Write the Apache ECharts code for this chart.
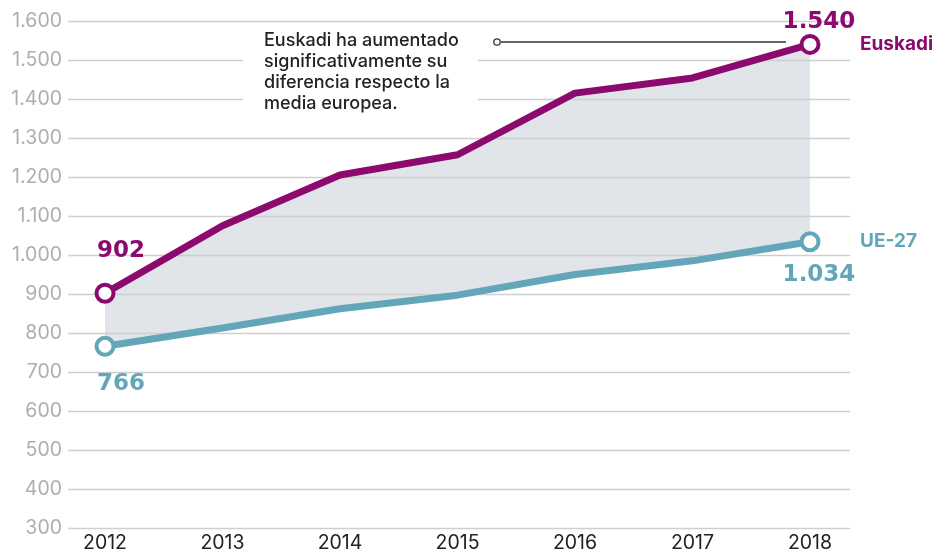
<!DOCTYPE html>
<html>
<head>
<meta charset="utf-8">
<script src="https://cdn.jsdelivr.net/npm/echarts@6/dist/echarts.min.js"></script>
<style>
  html, body { margin: 0; padding: 0; background: #fff; }
  #chart { width: 946px; height: 553px; }
</style>
</head>
<body>
<div id="chart"></div>
<script>
// datos
const years = ['2012', '2013', '2014', '2015', '2016', '2017', '2018'];
const euskadi = [902, 1075, 1205, 1257, 1415, 1454, 1540];
const ue27 = [766, 813, 862, 897, 950, 985, 1034];
const yMin = 300;
const yMax = 1600;
const yStep = 100;
const note = 'Euskadi ha aumentado\nsignificativamente su\ndiferencia respecto la\nmedia europea.';

const PURPLE = '#8c0a6e';
const TEAL = '#64a6b9';

function fmt(v) {
    return String(v).replace(/\B(?=(\d{3})+(?!\d))/g, '.');
}

// solo marcar el primer y el último punto
function withEnds(values, color, firstLabel, lastLabel) {
    return values.map(function (v, i) {
        const isEnd = i === 0 || i === values.length - 1;
        if (!isEnd) return { value: v, symbol: 'none' };
        const lbl = i === 0 ? firstLabel : lastLabel;
        return {
            value: v,
            symbol: 'circle',
            symbolSize: 17,
            label: {
                show: true,
                formatter: fmt(v),
                position: lbl.position,
                offset: lbl.offset,
                color: color,
                fontFamily: 'DejaVu Sans',
                fontWeight: 'bold',
                fontSize: 23
            }
        };
    });
}

const chart = echarts.init(document.getElementById('chart'));

const option = {
    animation: false,
    grid: [
        { left: 68, right: 96, top: 21, bottom: 25 },
        { left: 105, right: 136, top: 21, bottom: 25 }
    ],
    xAxis: [
        { gridIndex: 0, type: 'value', show: false, min: 0, max: 1 },
        {
            gridIndex: 1,
            type: 'category',
            data: years,
            boundaryGap: false,
            axisLine: { show: false },
            axisTick: { show: false },
            axisLabel: {
                margin: 5,
                color: '#222',
                fontFamily: 'Inter',
                fontSize: 19.5
            }
        }
    ],
    yAxis: [
        {
            gridIndex: 0,
            type: 'value',
            min: yMin,
            max: yMax,
            interval: yStep,
            axisLine: { show: false },
            axisTick: { show: false },
            splitLine: { lineStyle: { color: '#cfcfcf', width: 1.3 } },
            axisLabel: {
                margin: 6,
                color: '#aeaeae',
                fontFamily: 'Inter',
                fontSize: 19.5,
                formatter: fmt
            }
        },
        {
            gridIndex: 1,
            type: 'value',
            min: yMin,
            max: yMax,
            interval: yStep,
            show: false,
            splitLine: { show: false }
        }
    ],
    graphic: [
        {
            type: 'rect',
            shape: { x: 243, y: 27, width: 235, height: 96 },
            style: { fill: '#fff' },
            z: 50
        },
        {
            type: 'text',
            x: 264,
            y: 30,
            z: 51,
            style: {
                text: note,
                fill: '#222',
                font: '500 18px Inter',
                lineHeight: 21
            }
        },
        {
            type: 'line',
            shape: { x1: 501, y1: 42, x2: 786, y2: 42 },
            style: { stroke: '#333', lineWidth: 1.3 },
            z: 51
        },
        {
            type: 'circle',
            shape: { cx: 497, cy: 42, r: 3.2 },
            style: { fill: '#fff', stroke: '#333', lineWidth: 1.3 },
            z: 52
        }
    ],
    series: [
        {
            type: 'line',
            xAxisIndex: 1,
            yAxisIndex: 1,
            stack: 'band',
            data: ue27,
            symbol: 'none',
            lineStyle: { opacity: 0 },
            silent: true,
            z: -1
        },
        {
            type: 'line',
            xAxisIndex: 1,
            yAxisIndex: 1,
            stack: 'band',
            data: euskadi.map(function (v, i) { return v - ue27[i]; }),
            symbol: 'none',
            lineStyle: { opacity: 0 },
            areaStyle: { color: '#e1e4e8', opacity: 1 },
            silent: true,
            z: -1
        },
        {
            name: 'UE-27',
            type: 'line',
            xAxisIndex: 1,
            yAxisIndex: 1,
            data: withEnds(ue27, TEAL,
                { position: 'bottom', offset: [16, 11] },
                { position: 'bottom', offset: [9, 6] }),
            lineStyle: { color: TEAL, width: 7 },
            itemStyle: { color: '#fff', borderColor: TEAL, borderWidth: 4 },
            endLabel: {
                show: true,
                formatter: '{a}',
                offset: [42, 0],
                color: TEAL,
                fontFamily: 'Inter',
                fontWeight: 'bold',
                fontSize: 19
            },
            z: 5
        },
        {
            name: 'Euskadi',
            type: 'line',
            xAxisIndex: 1,
            yAxisIndex: 1,
            data: withEnds(euskadi, PURPLE,
                { position: 'top', offset: [16, -15] },
                { position: 'top', offset: [9, 5] }),
            lineStyle: { color: PURPLE, width: 7 },
            itemStyle: { color: '#fff', borderColor: PURPLE, borderWidth: 4 },
            endLabel: {
                show: true,
                formatter: '{a}',
                offset: [42, 0],
                color: PURPLE,
                fontFamily: 'Inter',
                fontWeight: 'bold',
                fontSize: 19
            },
            z: 6
        }
    ]
};

chart.setOption(option);
</script>
</body>
</html>
